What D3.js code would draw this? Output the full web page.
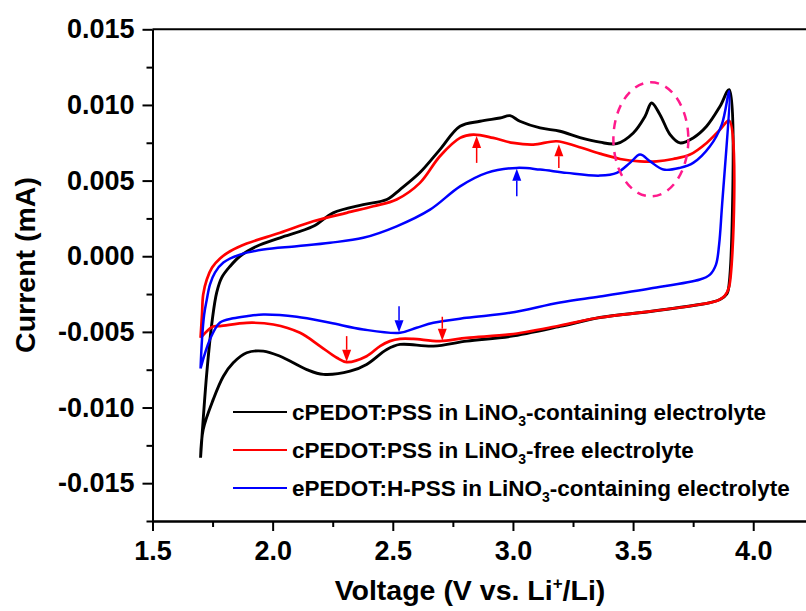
<!DOCTYPE html>
<html>
<head>
<meta charset="utf-8">
<script src="https://cdn.jsdelivr.net/npm/d3@7"></script>
<style>
  html, body { margin: 0; padding: 0; background: #fff; }
  svg { display: block; font-family: Arial, "Liberation Sans", Helvetica, sans-serif; }
</style>
</head>
<body>
<svg id="chart" width="806" height="611"></svg>
<script>
// Axis ticks and labels
const xMajor = [1.5, 2.0, 2.5, 3.0, 3.5, 4.0];
const xTickLabels = ["1.5", "2.0", "2.5", "3.0", "3.5", "4.0"];
const xMinor = [1.75, 2.25, 2.75, 3.25, 3.75];
const yMajor = [-0.015, -0.010, -0.005, 0.000, 0.005, 0.010, 0.015];
const yTickLabels = ["-0.015", "-0.010", "-0.005", "0.000", "0.005", "0.010", "0.015"];
const yMinor = [-0.0175, -0.0125, -0.0075, -0.0025, 0.0025, 0.0075, 0.0125];

// Cyclic voltammograms: [voltage (V), current (mA)], anodic sweep then cathodic sweep
const blackAnodic = [
  [1.700,-0.01332],[1.726,-0.00770],[1.749,-0.00418],[1.767,-0.00240],[1.788,-0.00141],
  [1.823,-0.00066],[1.864,0.00000],[1.934,0.00066],[2.031,0.00122],[2.169,0.00198],
  [2.252,0.00287],[2.377,0.00341],[2.475,0.00375],[2.530,0.00441],[2.613,0.00553],
  [2.696,0.00705],[2.780,0.00859],[2.863,0.00892],[2.946,0.00914],[2.988,0.00929],
  [3.029,0.00892],[3.113,0.00848],[3.196,0.00826],[3.279,0.00784],[3.362,0.00754],
  [3.432,0.00744],[3.501,0.00815],[3.550,0.00925],[3.577,0.01013],[3.612,0.00936],
  [3.654,0.00804],[3.695,0.00749],[3.750,0.00782],[3.806,0.00859],[3.862,0.00991],
  [3.900,0.01101]
];
const blackCathodic = [
  [3.900,0.01101],[3.900,-0.00180],[3.890,-0.00250],[3.862,-0.00286],[3.820,-0.00306],
  [3.778,-0.00319],[3.571,-0.00365],[3.362,-0.00405],[3.196,-0.00464],[2.988,-0.00530],
  [2.808,-0.00561],[2.669,-0.00594],[2.530,-0.00583],[2.475,-0.00616],[2.391,-0.00715],
  [2.322,-0.00760],[2.211,-0.00781],[2.142,-0.00749],[2.031,-0.00661],[1.961,-0.00627],
  [1.892,-0.00638],[1.836,-0.00704],[1.795,-0.00793],[1.753,-0.00946],[1.711,-0.01145],
  [1.700,-0.01332]
];
const redAnodic = [
  [1.700,-0.00539],[1.706,-0.00385],[1.711,-0.00253],[1.726,-0.00154],[1.748,-0.00075],
  [1.781,-0.00015],[1.823,0.00033],[1.892,0.00084],[2.031,0.00155],[2.169,0.00231],
  [2.308,0.00287],[2.419,0.00330],[2.516,0.00375],[2.613,0.00485],[2.696,0.00661],
  [2.780,0.00782],[2.835,0.00804],[2.918,0.00782],[3.001,0.00749],[3.085,0.00738],
  [3.182,0.00760],[3.265,0.00727],[3.362,0.00678],[3.446,0.00643],[3.529,0.00627],
  [3.598,0.00627],[3.667,0.00643],[3.737,0.00672],[3.806,0.00749],[3.862,0.00837],
  [3.900,0.00896]
];
const redCathodic = [
  [3.900,0.00896],[3.900,-0.00200],[3.882,-0.00260],[3.853,-0.00293],[3.778,-0.00319],
  [3.571,-0.00365],[3.362,-0.00405],[3.196,-0.00458],[2.988,-0.00517],[2.808,-0.00539],
  [2.696,-0.00561],[2.585,-0.00546],[2.530,-0.00546],[2.488,-0.00561],[2.447,-0.00594],
  [2.391,-0.00661],[2.308,-0.00700],[2.267,-0.00671],[2.197,-0.00594],[2.114,-0.00506],
  [2.003,-0.00451],[1.892,-0.00440],[1.781,-0.00462],[1.752,-0.00464],[1.700,-0.00539]
];
const blueAnodic = [
  [1.700,-0.00742],[1.706,-0.00550],[1.715,-0.00385],[1.726,-0.00286],[1.739,-0.00187],
  [1.760,-0.00108],[1.795,-0.00042],[1.864,0.00011],[1.961,0.00044],[2.100,0.00066],
  [2.239,0.00089],[2.377,0.00122],[2.516,0.00198],[2.655,0.00308],[2.780,0.00462],
  [2.891,0.00551],[3.016,0.00584],[3.113,0.00573],[3.224,0.00551],[3.362,0.00533],
  [3.432,0.00551],[3.487,0.00617],[3.529,0.00672],[3.571,0.00627],[3.626,0.00573],
  [3.695,0.00584],[3.750,0.00617],[3.820,0.00727],[3.869,0.00870],[3.900,0.01090]
];
const blueCathodic = [
  [3.900,0.01090],[3.869,0.00308],[3.858,0.00077],[3.845,-0.00055],[3.820,-0.00121],
  [3.778,-0.00154],[3.571,-0.00213],[3.362,-0.00266],[3.196,-0.00306],[2.988,-0.00374],
  [2.808,-0.00407],[2.669,-0.00440],[2.599,-0.00473],[2.530,-0.00506],[2.377,-0.00484],
  [2.239,-0.00440],[2.100,-0.00400],[1.961,-0.00385],[1.892,-0.00396],[1.836,-0.00410],
  [1.781,-0.00438],[1.739,-0.00550],[1.700,-0.00742]
];

// Peak markers: [voltage, tail current, head current]
const redArrows = [[2.849,0.00617,0.00795],[3.191,0.00584,0.00740],[2.308,-0.00528,-0.00697],[2.706,-0.00400,-0.00558]];
const blueArrows = [[3.016,0.00396,0.00578],[2.526,-0.00330,-0.00503]];

// Highlighted region around the 3.58 V peak: centre and half-widths in data units
const highlightCentre = [3.574, 0.00773];
const highlightRadii = [0.156, 0.00377];

const seriesNames = [
  ["cPEDOT:PSS in LiNO", "3", "-containing electrolyte"],
  ["cPEDOT:PSS in LiNO", "3", "-free electrolyte"],
  ["ePEDOT:H-PSS in LiNO", "3", "-containing electrolyte"]
];
const seriesColors = ["#000000", "#ff0000", "#0000ff"];

const svg = d3.select("#chart");

const x = d3.scaleLinear().domain([1.5, 4.25]).range([152.5, 813.3]);
const y = d3.scaleLinear().domain([-0.0175, 0.015]).range([521, 29.3]);

function styleAxis(g) {
  g.attr("font-size", null).attr("font-family", null);
  g.selectAll(".domain").attr("stroke", "#000").attr("stroke-width", 2);
  g.selectAll(".tick line").attr("stroke", "#000").attr("stroke-width", 2);
  g.selectAll(".tick text")
    .attr("fill", "#000")
    .style("font-size", "27px")
    .style("font-weight", "bold");
}

// Frame: top edge
svg.append("line")
  .attr("x1", x(1.5)).attr("x2", x(4.25))
  .attr("y1", y(0.015)).attr("y2", y(0.015))
  .attr("stroke", "#000").attr("stroke-width", 2);

// Minor ticks
svg.append("g")
  .attr("transform", `translate(0,${y(-0.0175)})`)
  .call(d3.axisBottom(x).tickValues(xMinor).tickSize(6).tickSizeOuter(0).tickFormat(""))
  .call(styleAxis);
svg.append("g")
  .attr("transform", `translate(${x(1.5)},0)`)
  .call(d3.axisLeft(y).tickValues(yMinor).tickSize(6).tickSizeOuter(0).tickFormat(""))
  .call(styleAxis);

// Major ticks with labels
svg.append("g")
  .attr("transform", `translate(0,${y(-0.0175)})`)
  .call(d3.axisBottom(x).tickValues(xMajor).tickSize(10).tickSizeOuter(0).tickPadding(10)
    .tickFormat((d, i) => xTickLabels[i]))
  .call(styleAxis);
svg.append("g")
  .attr("transform", `translate(${x(1.5)},0)`)
  .call(d3.axisLeft(y).tickValues(yMajor).tickSize(10).tickSizeOuter(0).tickPadding(8)
    .tickFormat((d, i) => yTickLabels[i]))
  .call(styleAxis);

// Axis titles
const xTitle = svg.append("text")
  .attr("x", 470).attr("y", 600)
  .attr("text-anchor", "middle")
  .style("font-size", "28.5px").style("font-weight", "bold");
xTitle.append("tspan").text("Voltage (V vs. Li");
xTitle.append("tspan").text("+").attr("font-size", "17px").attr("dy", -11);
xTitle.append("tspan").text("/Li)").attr("dy", 11);

svg.append("text")
  .attr("transform", "translate(35,265) rotate(-90)")
  .attr("text-anchor", "middle")
  .style("font-size", "28.5px").style("font-weight", "bold")
  .text("Current (mA)");

// Curves
const line = d3.line()
  .x(d => x(d[0]))
  .y(d => y(d[1]))
  .curve(d3.curveCatmullRom.alpha(0.5));

const curves = [
  { pts: blackAnodic.concat(blackCathodic.slice(1)), color: seriesColors[0], w: 2.9 },
  { pts: redAnodic.concat(redCathodic.slice(1)), color: seriesColors[1], w: 2.7 },
  { pts: blueAnodic.concat(blueCathodic.slice(1)), color: seriesColors[2], w: 2.5 }
];
svg.append("g").selectAll("path")
  .data(curves)
  .join("path")
  .attr("d", d => line(d.pts))
  .attr("fill", "none")
  .attr("stroke", d => d.color)
  .attr("stroke-width", d => d.w)
  .attr("stroke-linejoin", "round");

// Arrows marking peaks
function drawArrows(list, color) {
  const g = svg.append("g");
  list.forEach(([v, i0, i1]) => {
    const px = x(v), y0 = y(i0), y1 = y(i1);
    const dir = y1 < y0 ? -1 : 1;       // -1 = pointing up
    const headLen = 12, halfW = 4.5;
    g.append("line")
      .attr("x1", px).attr("x2", px)
      .attr("y1", y0).attr("y2", y1 - dir * headLen)
      .attr("stroke", color).attr("stroke-width", 1.5);
    g.append("path")
      .attr("d", `M${px},${y1} L${px - halfW},${y1 - dir * headLen} L${px + halfW},${y1 - dir * headLen} Z`)
      .attr("fill", color);
  });
}
drawArrows(redArrows, "#ff0000");
drawArrows(blueArrows, "#0000ff");

// Dashed ellipse around the 3.58 V peak
svg.append("ellipse")
  .attr("cx", x(highlightCentre[0]))
  .attr("cy", y(highlightCentre[1]))
  .attr("rx", x(highlightCentre[0] + highlightRadii[0]) - x(highlightCentre[0]))
  .attr("ry", y(highlightCentre[1]) - y(highlightCentre[1] + highlightRadii[1]))
  .attr("fill", "none")
  .attr("stroke", "#ff1a8c")
  .attr("stroke-width", 2.5)
  .attr("stroke-dasharray", "9,7");

// Legend
const legend = svg.append("g");
seriesNames.forEach((parts, i) => {
  const ly = 412 + i * 38;
  legend.append("line")
    .attr("x1", 233).attr("x2", 287)
    .attr("y1", ly).attr("y2", ly)
    .attr("stroke", seriesColors[i]).attr("stroke-width", 2);
  const t = legend.append("text")
    .attr("x", 292).attr("y", ly + 8)
    .style("font-size", "22.5px").style("font-weight", "bold");
  t.append("tspan").text(parts[0]);
  t.append("tspan").text(parts[1]).attr("font-size", "14px").attr("dy", 6);
  t.append("tspan").text(parts[2]).attr("dy", -6);
});
</script>
</body>
</html>
